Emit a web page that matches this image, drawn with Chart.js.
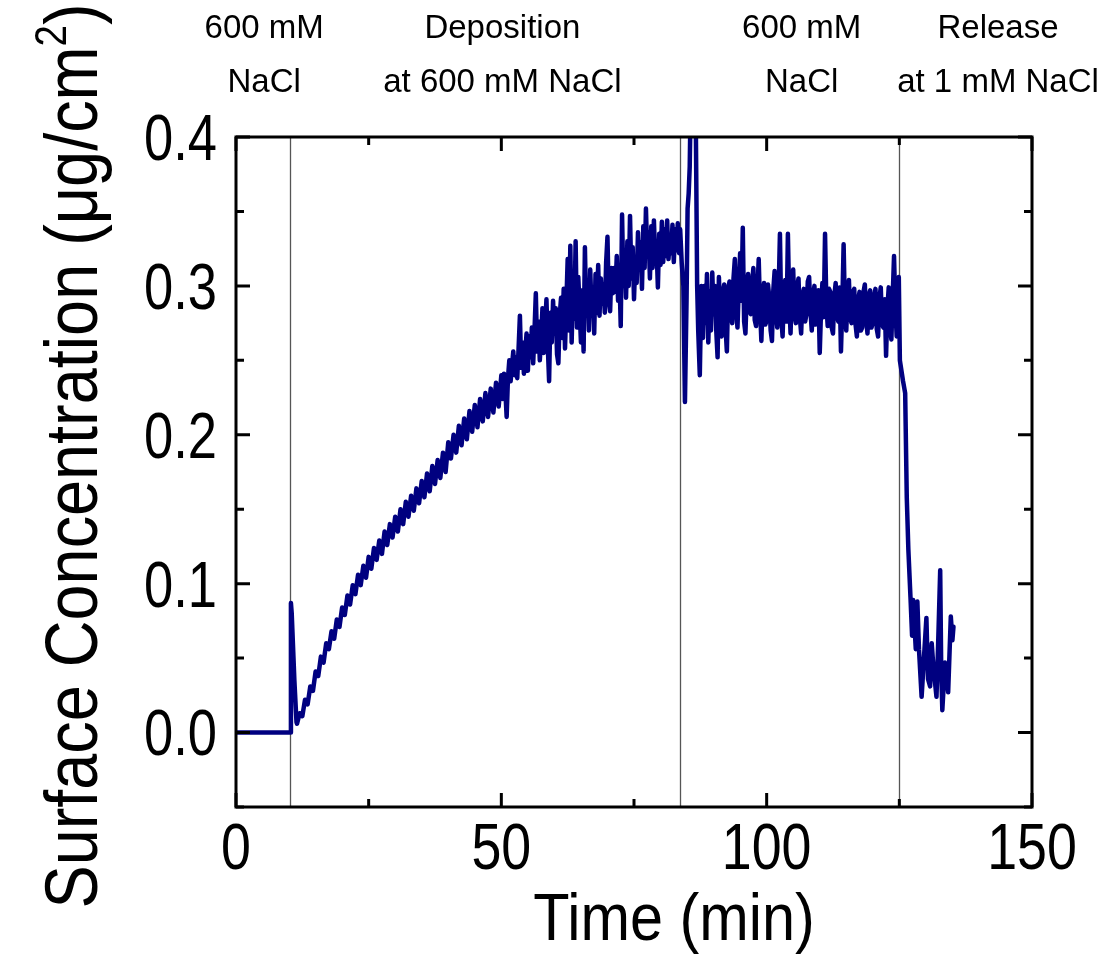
<!DOCTYPE html>
<html>
<head>
<meta charset="utf-8">
<title>Surface Concentration vs Time</title>
<script src="https://cdn.jsdelivr.net/npm/chart.js@4.4.1/dist/chart.umd.min.js"></script>
<style>
    html, body { margin: 0; padding: 0; background: #fff; }
    #chart { display: block; }
</style>
</head>
<body>
<canvas id="chart" width="1108" height="958"></canvas>
<script>
// ===== DATA =====
var xTicks = [0, 50, 100, 150];
var xMinorTicks = [25, 75, 125];
var yTicks = [0.0, 0.1, 0.2, 0.3, 0.4];
var yMinorTicks = [-0.05, 0.05, 0.15, 0.25, 0.35];

// solution switch times (min)
var markers = [10.2, 83.7, 124.9];
var phaseLabels = [
    ['600 mM', 'NaCl'],
    ['Deposition', 'at 600 mM NaCl'],
    ['600 mM', 'NaCl'],
    ['Release', 'at 1 mM NaCl']
];

// baseline + injection spike
var baselineTime = [0, 10.2, 10.35, 10.5, 11.0, 11.4];
var baselineConc = [0, 0, 0.087, 0.080, 0.035, 0.007];

// deposition at 600 mM NaCl, first part
var growthTime = [
    11.5, 12, 12.5, 13, 13.5, 14, 14.5, 15, 15.5, 16,
    16.5, 17, 17.5, 18, 18.5, 19, 19.5, 20, 20.5, 21,
    21.5, 22, 22.5, 23, 23.5, 24, 24.5, 25, 25.5, 26,
    26.5, 27, 27.5, 28, 28.5, 29, 29.5, 30, 30.5, 31,
    31.5, 32, 32.5, 33, 33.5, 34, 34.5, 35, 35.5, 36,
    36.5, 37, 37.5, 38, 38.5, 39, 39.5, 40, 40.5, 41,
    41.5, 42, 42.5, 43, 43.5, 44, 44.5, 45, 45.5, 46,
    46.5, 47, 47.5, 48, 48.5, 49, 49.5, 50
];
var growthConc = [
    0.006, 0.013, 0.011, 0.022, 0.019, 0.031, 0.028, 0.041, 0.038, 0.051,
    0.047, 0.060, 0.056, 0.068, 0.063, 0.076, 0.071, 0.084, 0.079, 0.092,
    0.086, 0.099, 0.093, 0.106, 0.099, 0.112, 0.104, 0.118, 0.110, 0.124,
    0.116, 0.129, 0.120, 0.135, 0.126, 0.140, 0.131, 0.145, 0.135, 0.150,
    0.140, 0.155, 0.145, 0.159, 0.149, 0.164, 0.154, 0.169, 0.158, 0.174,
    0.162, 0.179, 0.167, 0.183, 0.171, 0.188, 0.175, 0.195, 0.184, 0.200,
    0.188, 0.206, 0.193, 0.211, 0.197, 0.216, 0.202, 0.220, 0.205, 0.224,
    0.209, 0.228, 0.212, 0.231, 0.215, 0.235, 0.219, 0.240
];

// deposition at 600 mM NaCl, noisy part
var plateauTime = [
    50.25, 50.5, 50.75, 51, 51.25, 51.5, 51.75, 52, 52.25, 52.5, 52.75, 53,
    53.25, 53.5, 53.75, 54, 54.25, 54.5, 54.75, 55, 55.25, 55.5, 55.75, 56,
    56.25, 56.5, 56.75, 57, 57.25, 57.5, 57.75, 58, 58.25, 58.5, 58.75, 59,
    59.25, 59.5, 59.75, 60, 60.25, 60.5, 60.75, 61, 61.25, 61.5, 61.75, 62,
    62.25, 62.5, 62.75, 63, 63.25, 63.5, 63.75, 64, 64.25, 64.5, 64.75, 65,
    65.25, 65.5, 65.75, 66, 66.25, 66.5, 66.75, 67, 67.25, 67.5, 67.75, 68,
    68.25, 68.5, 68.75, 69, 69.25, 69.5, 69.75, 70, 70.25, 70.5, 70.75, 71,
    71.25, 71.5, 71.75, 72, 72.25, 72.5, 72.75, 73, 73.25, 73.5, 73.75, 74,
    74.25, 74.5, 74.75, 75, 75.25, 75.5, 75.75, 76, 76.25, 76.5, 76.75, 77,
    77.25, 77.5, 77.75, 78, 78.25, 78.5, 78.75, 79, 79.25, 79.5, 79.75, 80,
    80.25, 80.5, 80.75, 81, 81.25, 81.5, 81.75, 82, 82.25, 82.5, 82.75, 83,
    83.25, 83.5
];
var plateauConc = [
    0.224, 0.241, 0.230, 0.212, 0.238, 0.250, 0.236, 0.246, 0.256, 0.240, 0.252, 0.238,
    0.258, 0.280, 0.245, 0.262, 0.241, 0.255, 0.268, 0.243, 0.266, 0.252, 0.272, 0.248,
    0.270, 0.295, 0.256, 0.276, 0.250, 0.265, 0.285, 0.255, 0.272, 0.291, 0.260, 0.236,
    0.282, 0.262, 0.290, 0.268, 0.285, 0.254, 0.248, 0.280, 0.292, 0.265, 0.298, 0.258,
    0.288, 0.318, 0.270, 0.327, 0.262, 0.300, 0.278, 0.330, 0.272, 0.306, 0.285, 0.262,
    0.297, 0.256, 0.326, 0.280, 0.303, 0.270, 0.311, 0.284, 0.296, 0.268, 0.308, 0.282,
    0.314, 0.280, 0.305, 0.288, 0.301, 0.282, 0.316, 0.333, 0.290, 0.283, 0.312, 0.295,
    0.312, 0.296, 0.320, 0.290, 0.308, 0.273, 0.348, 0.300, 0.322, 0.292, 0.330, 0.300,
    0.347, 0.305, 0.326, 0.291, 0.318, 0.302, 0.336, 0.311, 0.329, 0.298, 0.340, 0.312,
    0.352, 0.320, 0.336, 0.305, 0.340, 0.312, 0.344, 0.318, 0.326, 0.299, 0.335, 0.314,
    0.343, 0.316, 0.338, 0.320, 0.344, 0.318, 0.332, 0.322, 0.341, 0.316, 0.338, 0.324,
    0.342, 0.322
];

// switch back to 600 mM NaCl
var switchTime = [83.7, 84.0, 84.3, 84.6, 84.9, 85.1, 85.3, 85.5, 85.7, 86.6, 86.9, 87.1, 87.4, 87.7];
var switchConc = [0.338, 0.315, 0.300, 0.222, 0.290, 0.352, 0.362, 0.380, 0.430, 0.430, 0.300, 0.270, 0.240, 0.300];

// rinse at 600 mM NaCl
var rinseTime = [
    88, 88.25, 88.5, 88.75, 89, 89.25, 89.5, 89.75, 90, 90.25, 90.5, 90.75,
    91, 91.25, 91.5, 91.75, 92, 92.25, 92.5, 92.75, 93, 93.25, 93.5, 93.75,
    94, 94.25, 94.5, 94.75, 95, 95.25, 95.5, 95.75, 96, 96.25, 96.5, 96.75,
    97, 97.25, 97.5, 97.75, 98, 98.25, 98.5, 98.75, 99, 99.25, 99.5, 99.75,
    100, 100.25, 100.5, 100.75, 101, 101.25, 101.5, 101.75, 102, 102.25, 102.5, 102.75,
    103, 103.25, 103.5, 103.75, 104, 104.25, 104.5, 104.75, 105, 105.25, 105.5, 105.75,
    106, 106.25, 106.5, 106.75, 107, 107.25, 107.5, 107.75, 108, 108.25, 108.5, 108.75,
    109, 109.25, 109.5, 109.75, 110, 110.25, 110.5, 110.75, 111, 111.25, 111.5, 111.75,
    112, 112.25, 112.5, 112.75, 113, 113.25, 113.5, 113.75, 114, 114.25, 114.5, 114.75,
    115, 115.25, 115.5, 115.75, 116, 116.25, 116.5, 116.75, 117, 117.25, 117.5, 117.75,
    118, 118.25, 118.5, 118.75, 119, 119.25, 119.5, 119.75, 120, 120.25, 120.5, 120.75,
    121, 121.25, 121.5, 121.75, 122, 122.25, 122.5, 122.75, 123, 123.25, 123.5, 123.75,
    124, 124.25, 124.5
];
var rinseConc = [
    0.265, 0.300, 0.275, 0.308, 0.262, 0.296, 0.270, 0.309, 0.281, 0.300, 0.270, 0.252,
    0.306, 0.279, 0.266, 0.296, 0.301, 0.272, 0.256, 0.298, 0.303, 0.280, 0.275, 0.305,
    0.318, 0.283, 0.272, 0.300, 0.322, 0.290, 0.339, 0.276, 0.268, 0.296, 0.308, 0.283,
    0.281, 0.302, 0.312, 0.277, 0.273, 0.296, 0.318, 0.285, 0.263, 0.291, 0.302, 0.274,
    0.277, 0.301, 0.292, 0.270, 0.263, 0.297, 0.310, 0.281, 0.272, 0.296, 0.335, 0.279,
    0.266, 0.295, 0.304, 0.276, 0.335, 0.290, 0.268, 0.299, 0.311, 0.280, 0.275, 0.300,
    0.305, 0.279, 0.268, 0.294, 0.298, 0.276, 0.281, 0.303, 0.306, 0.283, 0.270, 0.294,
    0.300, 0.274, 0.278, 0.297, 0.255, 0.284, 0.302, 0.279, 0.335, 0.288, 0.273, 0.298,
    0.296, 0.272, 0.268, 0.293, 0.302, 0.280, 0.276, 0.299, 0.256, 0.287, 0.328, 0.283,
    0.270, 0.295, 0.304, 0.278, 0.275, 0.296, 0.298, 0.274, 0.266, 0.291, 0.296, 0.270,
    0.272, 0.296, 0.301, 0.277, 0.268, 0.294, 0.297, 0.272, 0.275, 0.293, 0.298, 0.271,
    0.266, 0.292, 0.299, 0.274, 0.272, 0.291, 0.253, 0.285, 0.299, 0.272, 0.264, 0.293,
    0.320, 0.285, 0.266
];

// release at 1 mM NaCl
var releaseTime = [
    124.9, 125.1, 125.7, 126.1, 126.4, 126.7, 127.1, 127.4, 127.6, 128.1,
    128.4, 128.7, 129.2, 129.6, 130.1, 130.4, 130.8, 131.1, 131.4, 132.0,
    132.3, 132.7, 132.9, 133.1, 133.6, 134.0, 134.2, 134.7, 135.0, 135.2
];
var releaseConc = [
    0.306, 0.250, 0.236, 0.228, 0.158, 0.123, 0.091, 0.065, 0.089, 0.056,
    0.088, 0.056, 0.024, 0.048, 0.077, 0.036, 0.031, 0.060, 0.045, 0.024,
    0.058, 0.109, 0.040, 0.015, 0.047, 0.036, 0.027, 0.078, 0.062, 0.071
];

// ===== BUILD POINTS =====
var allTime = baselineTime.concat(growthTime, plateauTime, switchTime, rinseTime, releaseTime);
var allConc = baselineConc.concat(growthConc, plateauConc, switchConc, rinseConc, releaseConc);
var points = allTime.map(function(t, i) {
    return { x: t, y: allConc[i] };
});

// ===== DRAWING HELPERS =====
var FONT = '"Liberation Sans", Arial, Helvetica, sans-serif';

function squeezedText(ctx, text, x, y, size, squeeze, align) {
    ctx.save();
    ctx.font = size + 'px ' + FONT;
    ctx.translate(x, y);
    ctx.scale(squeeze, 1);
    ctx.textAlign = align;
    ctx.textBaseline = 'alphabetic';
    ctx.fillStyle = '#000';
    ctx.fillText(text, 0, 0);
    ctx.restore();
}

var decorPlugin = {
    id: 'decor',
    beforeDatasetsDraw: function(chart) {
        var ctx = chart.ctx, a = chart.chartArea, xs = chart.scales.x;
        ctx.save();
        ctx.strokeStyle = '#555';
        ctx.lineWidth = 1.3;
        markers.forEach(function(t) {
            var px = Math.round(xs.getPixelForValue(t)) + 0.5;
            ctx.beginPath();
            ctx.moveTo(px, a.top);
            ctx.lineTo(px, a.bottom);
            ctx.stroke();
        });
        ctx.restore();
    },
    afterDraw: function(chart) {
        var ctx = chart.ctx, a = chart.chartArea;
        var xs = chart.scales.x, ys = chart.scales.y;

        // frame
        ctx.save();
        ctx.strokeStyle = '#000';
        ctx.lineWidth = 3;
        ctx.strokeRect(a.left, a.top, a.right - a.left, a.bottom - a.top);

        // inward ticks on all four sides
        function xTick(v, len) {
            var px = xs.getPixelForValue(v);
            ctx.beginPath();
            ctx.moveTo(px, a.bottom); ctx.lineTo(px, a.bottom - len);
            ctx.moveTo(px, a.top); ctx.lineTo(px, a.top + len);
            ctx.stroke();
        }
        function yTick(v, len) {
            var py = ys.getPixelForValue(v);
            ctx.beginPath();
            ctx.moveTo(a.left, py); ctx.lineTo(a.left + len, py);
            ctx.moveTo(a.right, py); ctx.lineTo(a.right - len, py);
            ctx.stroke();
        }
        xTicks.forEach(function(v) { xTick(v, 14); });
        xMinorTicks.forEach(function(v) { xTick(v, 8); });
        yTicks.forEach(function(v) { yTick(v, 14); });
        yMinorTicks.forEach(function(v) { yTick(v, 8); });
        ctx.restore();

        // tick labels
        var tickSize = 64;
        yTicks.forEach(function(v) {
            var py = ys.getPixelForValue(v);
            squeezedText(ctx, v.toFixed(1), a.left - 19, py + tickSize * 0.358, tickSize, 0.82, 'right');
        });
        xTicks.forEach(function(v) {
            var px = xs.getPixelForValue(v);
            squeezedText(ctx, String(v), px, a.bottom + 62, tickSize, 0.84, 'center');
        });

        // x axis title
        squeezedText(ctx, 'Time (min)', (a.left + a.right) / 2 + 40, 940, 66, 0.9, 'center');

        // y axis title with superscript
        ctx.save();
        var size = 74, big = size + 'px ' + FONT, small = Math.round(size * 0.6) + 'px ' + FONT;
        var partA = 'Surface Concentration (\u03bcg/cm', partB = '2', partC = ')';
        ctx.font = big;
        var wa = ctx.measureText(partA).width, wc = ctx.measureText(partC).width;
        ctx.font = small;
        var wb = ctx.measureText(partB).width;
        var total = wa + wb + wc;
        var squeeze = 905 / total;
        ctx.translate(97, 456);
        ctx.rotate(-Math.PI / 2);
        ctx.scale(squeeze, 1);
        ctx.fillStyle = '#000';
        ctx.textAlign = 'left';
        ctx.textBaseline = 'alphabetic';
        var x0 = -total / 2;
        ctx.font = big;
        ctx.fillText(partA, x0, 0);
        ctx.font = small;
        ctx.fillText(partB, x0 + wa, -size * 0.42);
        ctx.font = big;
        ctx.fillText(partC, x0 + wa + wb, 0);
        ctx.restore();

        // phase labels above the plot
        var centers = [5.3, 50.2, 106.6, 143.6];
        phaseLabels.forEach(function(lines, i) {
            var px = xs.getPixelForValue(centers[i]);
            squeezedText(ctx, lines[0], px, 38, 33, 1, 'center');
            squeezedText(ctx, lines[1], px, 92, 33, 1, 'center');
        });
    }
};

// ===== CHART =====
var ctx = document.getElementById('chart').getContext('2d');
new Chart(ctx, {
    type: 'line',
    data: {
        datasets: [{
            label: 'Surface Concentration',
            data: points,
            borderColor: '#000080',
            borderWidth: 4.5,
            borderJoinStyle: 'round',
            borderCapStyle: 'round',
            pointRadius: 0,
            tension: 0,
            fill: false,
            clip: 0
        }]
    },
    options: {
        responsive: false,
        animation: false,
        devicePixelRatio: 1,
        layout: {
            padding: { left: 0, right: 76, top: 137, bottom: 0 }
        },
        plugins: {
            legend: { display: false },
            tooltip: { enabled: false }
        },
        scales: {
            x: {
                type: 'linear',
                min: 0,
                max: 150,
                grid: { display: false },
                border: { display: false },
                ticks: { display: false },
                afterBuildTicks: function(scale) {
                    scale.ticks = xTicks.map(function(v) { return { value: v }; });
                },
                afterFit: function(scale) { scale.height = 151; }
            },
            y: {
                type: 'linear',
                min: -0.05,
                max: 0.4,
                grid: { display: false },
                border: { display: false },
                ticks: { display: false },
                afterBuildTicks: function(scale) {
                    scale.ticks = yTicks.map(function(v) { return { value: v }; });
                },
                afterFit: function(scale) { scale.width = 236; }
            }
        }
    },
    plugins: [decorPlugin]
});
</script>
</body>
</html>
